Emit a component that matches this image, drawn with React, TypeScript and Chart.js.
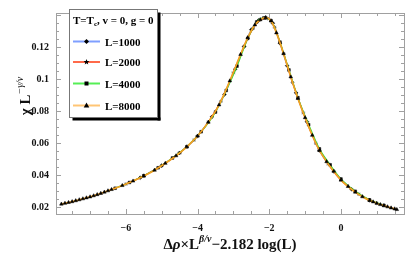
import React, { useEffect, useRef } from "react";
import { Chart, registerables } from "chart.js";

Chart.register(...registerables);

const xTickValues = [-6, -4, -2, 0];
const yTickValues = [0.02, 0.04, 0.06, 0.08, 0.1, 0.12];
const xRange = [-7.95, 1.76];
const yRange = [0.0158, 0.1414];

const seriesLabels = ["L=1000", "L=2000", "L=4000", "L=8000"];

const x1000 = [-5.6, -5.0, -4.5, -4.0, -3.6, -3.25, -2.95, -2.7, -2.5, -2.3, -2.1, -1.9, -1.7, -1.5, -1.25, -0.95, -0.6, -0.2, 0.3, 0.8];
const y1000 = [0.0385, 0.046, 0.054, 0.0645, 0.0765, 0.0905, 0.1063, 0.1205, 0.131, 0.1367, 0.1385, 0.135, 0.1225, 0.1085, 0.0915, 0.0735, 0.0555, 0.0425, 0.0312, 0.0243];

const x2000 = [-6.0, -5.5, -5.0, -4.5, -4.1, -3.7, -3.35, -3.0, -2.7, -2.45, -2.25, -2.05, -1.85, -1.6, -1.35, -1.05, -0.7, -0.35, 0.0, 0.5, 1.0];
const y2000 = [0.0345, 0.0396, 0.046, 0.054, 0.062, 0.0732, 0.0862, 0.104, 0.1205, 0.1318, 0.1372, 0.138, 0.1325, 0.116, 0.098, 0.079, 0.06, 0.047, 0.037, 0.0282, 0.0225];

const x4000 = [-6.3, -5.9, -5.5, -5.1, -4.7, -4.3, -3.9, -3.5, -3.2, -2.9, -2.6, -2.35, -2.15, -1.95, -1.7, -1.45, -1.2, -0.9, -0.6, -0.3, 0.0, 0.4, 0.8, 1.2];
const y4000 = [0.0319, 0.0355, 0.0397, 0.0447, 0.0508, 0.0578, 0.0672, 0.0795, 0.093, 0.1082, 0.1255, 0.1358, 0.1383, 0.1366, 0.1232, 0.1058, 0.0885, 0.0716, 0.0565, 0.0465, 0.0377, 0.03, 0.0246, 0.0212];

const x8000 = [-7.8, -7.7, -7.6, -7.5, -7.4, -7.3, -7.2, -7.1, -7.0, -6.9, -6.8, -6.7, -6.6, -6.5, -6.4, -6.1, -5.8, -5.5, -5.2, -4.9, -4.6, -4.3, -4.0, -3.7, -3.4, -3.1, -2.8, -2.6, -2.4, -2.25, -2.1, -1.95, -1.8, -1.6, -1.4, -1.2, -1.0, -0.8, -0.6, -0.4, -0.2, 0.0, 0.2, 0.4, 0.6, 0.8, 0.9, 1.0, 1.1, 1.2, 1.3, 1.4, 1.5, 1.56];
const y8000 = [0.022, 0.0225, 0.023, 0.0235, 0.0241, 0.0247, 0.0253, 0.0259, 0.0265, 0.0272, 0.0279, 0.0287, 0.0295, 0.0303, 0.0311, 0.0336, 0.0364, 0.0396, 0.0432, 0.0475, 0.0522, 0.0578, 0.0645, 0.0732, 0.084, 0.099, 0.1155, 0.126, 0.134, 0.1372, 0.1385, 0.1365, 0.129, 0.116, 0.1015, 0.088, 0.076, 0.065, 0.0555, 0.0485, 0.0425, 0.037, 0.033, 0.0295, 0.0266, 0.0243, 0.0234, 0.0225, 0.0217, 0.021, 0.0203, 0.0196, 0.019, 0.0186];

const lineColors = ["#6f8fff", "#ff4a2a", "#33dd33", "#f2a124"];
const legendLineColors = ["#7f9fff", "#ff6a4a", "#55ee55", "#ffc574"];
const pointStyles = ["rectRot", "star", "rect", "triangle"];

const SERIF = '"Liberation Serif", "DejaVu Serif", serif';

function pts(xs: number[], ys: number[]) {
  return xs.map((x, i) => ({ x, y: ys[i] }));
}

function drawMarker(ctx: CanvasRenderingContext2D, style: string, x: number, y: number) {
  ctx.save();
  ctx.fillStyle = "#000";
  ctx.beginPath();
  if (style === "rectRot") {
    ctx.moveTo(x, y - 2.5); ctx.lineTo(x + 2.5, y); ctx.lineTo(x, y + 2.5); ctx.lineTo(x - 2.5, y); ctx.closePath(); ctx.fill();
  } else if (style === "star") {
    for (let i = 0; i < 10; i++) {
      const r = i % 2 === 0 ? 3 : 1.3;
      const a = -Math.PI / 2 + (i * Math.PI) / 5;
      const px = x + r * Math.cos(a), py = y + r * Math.sin(a);
      if (i === 0) ctx.moveTo(px, py); else ctx.lineTo(px, py);
    }
    ctx.closePath(); ctx.fill();
  } else if (style === "rect") {
    ctx.rect(x - 2, y - 2, 4, 4); ctx.fill();
  } else {
    ctx.moveTo(x, y - 3); ctx.lineTo(x + 2.8, y + 2); ctx.lineTo(x - 2.8, y + 2); ctx.closePath(); ctx.fill();
  }
  ctx.restore();
}

const framePlugin = {
  id: "frame",
  beforeDatasetsDraw(chart: any) {
    const { ctx, chartArea: a, scales } = chart;
    const xs = scales.x, ys = scales.y;
    ctx.save();
    ctx.strokeStyle = "#a0a0a0";
    ctx.lineWidth = 1;
    ctx.strokeRect(Math.round(a.left) + 0.5, Math.round(a.top) + 0.5, Math.round(a.right - a.left), Math.round(a.bottom - a.top));
    ctx.beginPath();
    for (let v = -7.5; v <= 1.51; v += 0.5) {
      const major = Math.abs(v / 2 - Math.round(v / 2)) < 1e-6;
      const len = major ? 5 : 3;
      const px = Math.round(xs.getPixelForValue(v)) + 0.5;
      ctx.moveTo(px, a.bottom); ctx.lineTo(px, a.bottom - len);
      ctx.moveTo(px, a.top); ctx.lineTo(px, a.top + len);
    }
    for (let k = 4; k <= 28; k++) {
      const v = k * 0.005;
      const major = k % 4 === 0;
      const len = major ? 5 : 3;
      const py = Math.round(ys.getPixelForValue(v)) + 0.5;
      ctx.moveTo(a.left, py); ctx.lineTo(a.left + len, py);
      ctx.moveTo(a.right, py); ctx.lineTo(a.right - len, py);
    }
    ctx.stroke();
    ctx.restore();
  },
  afterDraw(chart: any) {
    const { ctx, chartArea: a } = chart;
    ctx.save();
    ctx.fillStyle = "#111";
    ctx.textBaseline = "alphabetic";
    const main = "bold 15px " + SERIF;
    const sup = "bold italic 10px " + SERIF;
    const parts: [string, string, number][] = [
      ["Δ", main, 0],
      ["ρ", "bold italic 15px " + SERIF, 0],
      ["×L", main, 0],
      ["β/ν", sup, -7],
      ["−2.182 log(L)", main, 0],
    ];
    let total = 0;
    for (const p of parts) { ctx.font = p[1]; total += ctx.measureText(p[0]).width; }
    let cx = (a.left + a.right) / 2 - total / 2;
    const base = 249;
    for (const p of parts) {
      ctx.font = p[1];
      ctx.fillText(p[0], cx, base + p[2]);
      cx += ctx.measureText(p[0]).width;
    }
    ctx.translate(25, 96);
    ctx.rotate(-Math.PI / 2);
    const yparts: [string, string, number][] = [
      ["χ L", "bold 15px " + SERIF, 0],
      ["−γ/ν", "italic 10px " + SERIF, -7],
    ];
    total = 0;
    for (const p of yparts) { ctx.font = p[1]; total += ctx.measureText(p[0]).width; }
    cx = -total / 2;
    for (const p of yparts) {
      ctx.font = p[1];
      ctx.fillText(p[0], cx, 5 + p[2]);
      cx += ctx.measureText(p[0]).width;
    }
    ctx.restore();

    ctx.save();
    const bx = 69.5, by = 9.5, bw = 88, bh = 108;
    ctx.fillStyle = "#000";
    ctx.fillRect(bx + 3, by + bh, bw, 3);
    ctx.fillRect(bx + bw, by + 3, 3, bh);
    ctx.fillStyle = "#fff";
    ctx.fillRect(bx, by, bw, bh);
    ctx.strokeStyle = "#777";
    ctx.lineWidth = 1;
    ctx.strokeRect(bx, by, bw, bh);
    ctx.fillStyle = "#000";
    ctx.font = "bold 11px " + SERIF;
    let tx = 73;
    const ty = 24;
    ctx.fillText("T=T", tx, ty); tx += ctx.measureText("T=T").width;
    ctx.font = "bold 7px " + SERIF;
    ctx.fillText("c", tx, ty + 2); tx += ctx.measureText("c").width;
    ctx.font = "bold 11px " + SERIF;
    ctx.fillText(", v = 0, g = 0", tx, ty);
    const rows = [41.5, 62, 83.5, 105.5];
    for (let i = 0; i < 4; i++) {
      const ry = rows[i];
      ctx.strokeStyle = legendLineColors[i];
      ctx.lineWidth = 2;
      ctx.beginPath(); ctx.moveTo(73, ry); ctx.lineTo(100, ry); ctx.stroke();
      drawMarker(ctx, pointStyles[i], 86.5, ry);
      ctx.fillStyle = "#000";
      ctx.font = "bold 11px " + SERIF;
      ctx.fillText(seriesLabels[i], 105, ry + 4);
    }
    ctx.restore();
  },
};

export default function App() {
  const ref = useRef<HTMLCanvasElement | null>(null);
  useEffect(() => {
    document.body.style.margin = "0";
    const canvas = ref.current!;
    const xsAll = [x1000, x2000, x4000, x8000];
    const ysAll = [y1000, y2000, y4000, y8000];
    const datasets = [0, 1, 2, 3].map((i) => ({
      label: seriesLabels[i],
      data: pts(xsAll[i], ysAll[i]),
      showLine: true,
      borderColor: lineColors[i],
      borderWidth: i === 3 ? 1.7 : 1.3,
      backgroundColor: "#000",
      pointBackgroundColor: "#000",
      pointBorderColor: "#000",
      pointStyle: pointStyles[i],
      pointRadius: i === 3 ? 2.1 : 1.9,
      pointBorderWidth: 0.5,
      cubicInterpolationMode: "monotone" as const,
      order: 3 - i,
    }));
    const chart = new Chart(canvas, {
      type: "scatter",
      data: { datasets },
      options: {
        responsive: false,
        animation: false,
        layout: { padding: { left: 0, right: 11, top: 5, bottom: 0 } },
        plugins: { legend: { display: false }, tooltip: { enabled: false } },
        scales: {
          x: {
            type: "linear",
            min: xRange[0],
            max: xRange[1],
            grid: { display: false, drawTicks: false },
            border: { display: false },
            ticks: {
              padding: 8,
              color: "#111",
              font: { family: SERIF, size: 10, weight: "bold" },
              callback: (v: any) => (Number(v) < 0 ? "−" + Math.abs(Number(v)) : String(v)),
            },
            afterBuildTicks: (s: any) => { s.ticks = xTickValues.map((v) => ({ value: v })); },
            afterFit: (s: any) => { s.height = 43; },
          },
          y: {
            type: "linear",
            min: yRange[0],
            max: yRange[1],
            grid: { display: false, drawTicks: false },
            border: { display: false },
            ticks: {
              padding: 7,
              color: "#111",
              font: { family: SERIF, size: 10, weight: "bold" },
              callback: (v: any) => String(+Number(v).toFixed(2)),
            },
            afterBuildTicks: (s: any) => { s.ticks = yTickValues.map((v) => ({ value: v })); },
            afterFit: (s: any) => { s.width = 56; },
          },
        },
      },
      plugins: [framePlugin],
    });
    return () => chart.destroy();
  }, []);
  return <canvas ref={ref} width={415} height={257} style={{ display: "block" }} />;
}
